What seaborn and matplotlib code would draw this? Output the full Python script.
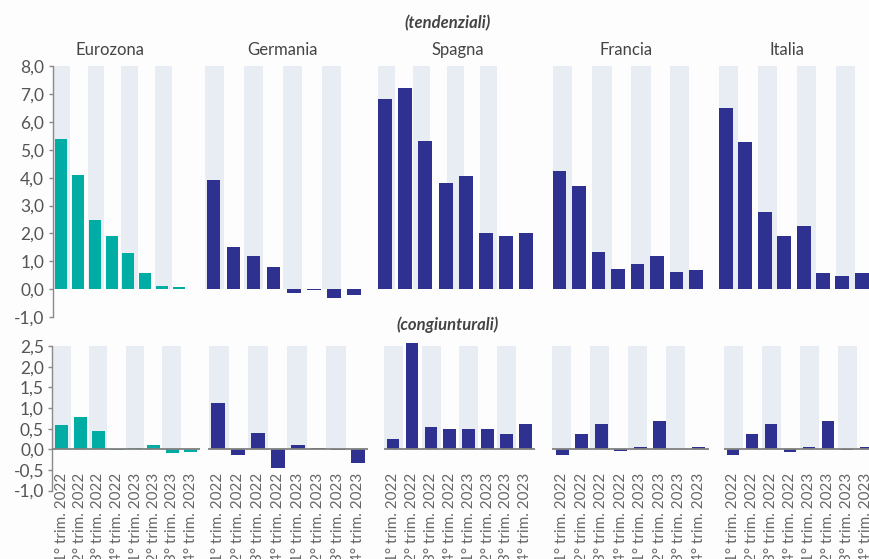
import numpy as np
import pandas as pd
import matplotlib
matplotlib.use("Agg")
import matplotlib.pyplot as plt
import seaborn as sns

# ---- data -------------------------------------------------------------
paesi = ["Eurozona", "Germania", "Spagna", "Francia", "Italia"]
trimestri = ["1° trim. 2022", "2° trim. 2022", "3° trim. 2022", "4° trim. 2022",
             "1° trim. 2023", "2° trim. 2023", "3° trim. 2023", "4° trim. 2023"]

# variazioni tendenziali (%)
tend_eurozona = [5.4, 4.1, 2.5, 1.9, 1.3, 0.6, 0.12, 0.07]
tend_germania = [3.9, 1.5, 1.2, 0.8, -0.12, -0.03, -0.33, -0.22]
tend_spagna = [6.8, 7.2, 5.3, 3.8, 4.05, 2.0, 1.9, 2.0]
tend_francia = [4.25, 3.7, 1.33, 0.72, 0.9, 1.18, 0.61, 0.69]
tend_italia = [6.5, 5.27, 2.76, 1.91, 2.27, 0.57, 0.48, 0.6]

# variazioni congiunturali (%)
cong_eurozona = [0.59, 0.79, 0.44, -0.02, 0.03, 0.10, -0.08, -0.06]
cong_germania = [1.12, -0.15, 0.39, -0.46, 0.11, 0.03, -0.01, -0.34]
cong_spagna = [0.24, 2.57, 0.53, 0.48, 0.49, 0.49, 0.38, 0.61]
cong_francia = [-0.15, 0.36, 0.62, -0.05, 0.05, 0.69, 0.0, 0.06]
cong_italia = [-0.15, 0.36, 0.62, -0.06, 0.05, 0.68, -0.02, 0.05]

tend_ticks = [8, 7, 6, 5, 4, 3, 2, 1, 0, -1]
cong_ticks = [2.5, 2.0, 1.5, 1.0, 0.5, 0.0, -0.5, -1.0]

tend = [tend_eurozona, tend_germania, tend_spagna, tend_francia, tend_italia]
cong = [cong_eurozona, cong_germania, cong_spagna, cong_francia, cong_italia]

# ---- style ------------------------------------------------------------
sns.set_theme(style="white")
plt.rcParams["font.family"] = ["Lato", "DejaVu Sans"]

W, H = 869, 559
TEAL = "#00ADA5"
NAVY = "#2E3190"
STRIPE = "#E8ECF3"
TXT = "#555555"
AXC = "#8a8a8a"

fig = plt.figure(figsize=(W / 100, H / 100), dpi=100, facecolor="#fdfdfd")

# panel geometry in pixels: first bar centre, bar step, stripe centres, stripe width, bar width
top_layout = [
    (61.0, 16.86, [62, 96, 129.5, 163.5], 16.5, 12.0),
    (213.5, 20.07, [214.5, 253.5, 292.5, 331.5], 19.0, 13.5),
    (385.0, 20.2, [386.5, 421, 455, 488.5], 17.0, 14.0),
    (559.5, 19.5, [562.5, 602, 641, 679.5], 19.5, 13.5),
    (726.0, 19.4, [728.5, 767.5, 806.5, 845], 19.0, 14.0),
]
bot_layout = [
    (61.5, 18.5, [62, 98, 135, 171.5], 18.5, 13.0),
    (217.5, 20.0, [219, 258, 297, 336], 19.5, 14.0),
    (393.0, 18.9, [393, 431, 468.5, 506.5], 19.0, 12.5),
    (562.0, 19.57, [561.5, 599.5, 637.5, 675.5], 19.0, 13.0),
    (733.0, 19.0, [733.5, 771.5, 809, 847.5], 19.0, 12.0),
]
title_x = [110, 283, 458, 626, 787]


def fmt(v):
    return f"{v:.1f}".replace(".", ",")


def make_panel(values, layout, ytop_px, ybot_px, ylim, color, first, ticks, bottom):
    c0, step, stripes, sw, bw = layout
    left = c0 - step / 2
    width = step * 8
    ax = fig.add_axes([left / W, 1 - ybot_px / H, width / W, (ybot_px - ytop_px) / H])
    ax.set_facecolor("none")
    df = pd.DataFrame({"trimestre": trimestri, "valore": values})
    sns.barplot(data=df, x="trimestre", y="valore", order=trimestri, color=color,
                saturation=1, width=bw / step, linewidth=0, ax=ax, zorder=2)
    for p in ax.patches:
        p.set_clip_on(False)
    ax.set_xlim(-0.5, 7.5)
    ax.set_ylim(*ylim)
    frac0 = (0 - ylim[0]) / (ylim[1] - ylim[0])
    for sc in stripes:
        xc = (sc - c0) / step
        half = sw / step / 2
        ax.axvspan(xc - half, xc + half, ymin=frac0, ymax=1, color=STRIPE,
                   lw=0, zorder=0)
    ax.set_xlabel("")
    ax.set_ylabel("")
    for s in ["top", "right", "bottom"]:
        ax.spines[s].set_visible(False)
    if first:
        ax.spines["left"].set_visible(True)
        ax.spines["left"].set_color(AXC)
        ax.spines["left"].set_linewidth(1.0)
        ax.set_yticks(ticks)
        ax.set_yticklabels([fmt(t) for t in ticks])
        ax.tick_params(axis="y", left=True, length=3, width=1, color=AXC,
                       pad=3, labelsize=12.5, labelcolor=TXT)
    else:
        ax.spines["left"].set_visible(False)
        ax.set_yticks([])
    if bottom:
        ax.axhline(0, color="#808080", lw=1.3, zorder=3)
        ax.set_xticks(range(8))
        ax.set_xticklabels(trimestri, rotation=90)
        ax.tick_params(axis="x", bottom=False, length=0, pad=-12.5,
                       labelsize=11, labelcolor="#666666")
        for lab in ax.get_xticklabels():
            lab.set_va("top")
            lab.set_ha("center")
    else:
        ax.set_xticks([])
    return ax


for i in range(5):
    col = TEAL if i == 0 else NAVY
    make_panel(tend[i], top_layout[i], 66, 317.2, (-1, 8), col, i == 0, tend_ticks, False)
    make_panel(cong[i], bot_layout[i], 346, 490.6, (-1, 2.5), col, i == 0, cong_ticks, True)
    fig.text(title_x[i] / W, 1 - 50 / H, paesi[i], ha="center", va="center",
             fontsize=12, color="#444444")

fig.text(448 / W, 1 - 23 / H, "(tendenziali)", ha="center", va="center",
         fontsize=12, fontweight="bold", fontstyle="italic", color="#444444")
fig.text(448 / W, 1 - 325 / H, "(congiunturali)", ha="center", va="center",
         fontsize=12, fontweight="bold", fontstyle="italic", color="#444444")

fig.savefig("out.png", dpi=100, facecolor=fig.get_facecolor())
